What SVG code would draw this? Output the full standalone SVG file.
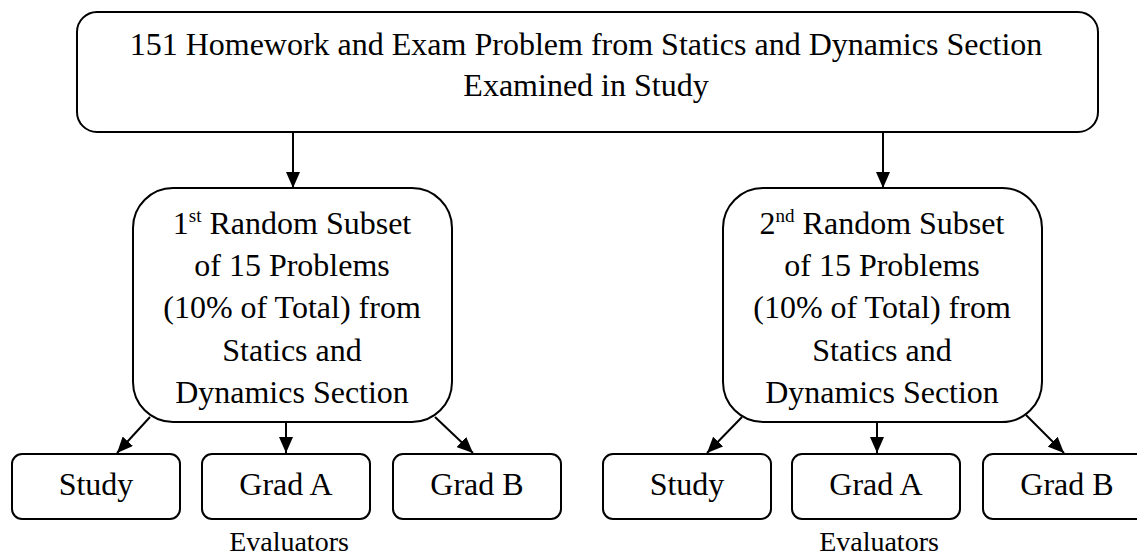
<svg xmlns="http://www.w3.org/2000/svg" width="1137" height="558" viewBox="0 0 1137 558">
<style>
.box{fill:#fff;stroke:#000;stroke-width:2}
.t{font-family:"Liberation Serif","Times New Roman",serif;font-size:32px;fill:#000;text-anchor:middle}
.sup{font-size:19px}
.ev{font-family:"Liberation Serif","Times New Roman",serif;font-size:28px;fill:#000;text-anchor:middle}
.c{stroke:#000;stroke-width:2;fill:none;marker-end:url(#ah)}
</style>
<defs>
<marker id="ah" markerUnits="userSpaceOnUse" markerWidth="16" markerHeight="14" refX="16" refY="7" orient="auto">
<path d="M0,0 L16,7 L0,14 z" fill="#000"/>
</marker>
</defs>
<rect width="1137" height="558" fill="#fff"/>
<g id="connectors">
<line class="c" x1="293" y1="132" x2="293" y2="188"/>
<line class="c" x1="883" y1="132" x2="883" y2="188"/>
<line class="c" x1="150" y1="417" x2="117" y2="453"/>
<line class="c" x1="286" y1="422" x2="286" y2="453"/>
<line class="c" x1="435" y1="417" x2="473" y2="453"/>
<line class="c" x1="742" y1="417" x2="707" y2="453"/>
<line class="c" x1="877" y1="422" x2="877" y2="453"/>
<line class="c" x1="1026" y1="415" x2="1064" y2="453"/>
</g>
<g id="top">
<rect class="box" x="77" y="12" width="1021" height="120" rx="20"/>
<text class="t" x="586" y="55">151 Homework and Exam Problem from Statics and Dynamics Section</text>
<text class="t" x="586" y="96">Examined in Study</text>
</g>
<g id="subset1">
<rect class="box" x="133" y="188" width="319" height="234" rx="40"/>
<text class="t" x="292" y="234">1<tspan class="sup" dy="-12">st</tspan><tspan dy="12"> Random Subset</tspan></text>
<text class="t" x="292" y="276">of 15 Problems</text>
<text class="t" x="292" y="318">(10% of Total) from</text>
<text class="t" x="292" y="361">Statics and</text>
<text class="t" x="292" y="403">Dynamics Section</text>
</g>
<g id="subset2">
<rect class="box" x="723" y="188" width="319" height="234" rx="40"/>
<text class="t" x="882" y="234">2<tspan class="sup" dy="-12">nd</tspan><tspan dy="12"> Random Subset</tspan></text>
<text class="t" x="882" y="276">of 15 Problems</text>
<text class="t" x="882" y="318">(10% of Total) from</text>
<text class="t" x="882" y="361">Statics and</text>
<text class="t" x="882" y="403">Dynamics Section</text>
</g>
<g id="study1">
<rect class="box" x="12" y="454" width="168" height="65" rx="10"/>
<text class="t" x="96" y="495">Study</text>
</g>
<g id="gradA1">
<rect class="box" x="202" y="454" width="168" height="65" rx="10"/>
<text class="t" x="286" y="495">Grad A</text>
</g>
<g id="gradB1">
<rect class="box" x="393" y="454" width="168" height="65" rx="10"/>
<text class="t" x="477" y="495">Grad B</text>
</g>
<g id="study2">
<rect class="box" x="603" y="454" width="168" height="65" rx="10"/>
<text class="t" x="687" y="495">Study</text>
</g>
<g id="gradA2">
<rect class="box" x="792" y="454" width="168" height="65" rx="10"/>
<text class="t" x="876" y="495">Grad A</text>
</g>
<g id="gradB2">
<rect class="box" x="983" y="454" width="168" height="65" rx="10"/>
<text class="t" x="1067" y="495">Grad B</text>
</g>
<g id="labels">
<text class="ev" x="289" y="551">Evaluators</text>
<text class="ev" x="879" y="551">Evaluators</text>
</g>
</svg>
